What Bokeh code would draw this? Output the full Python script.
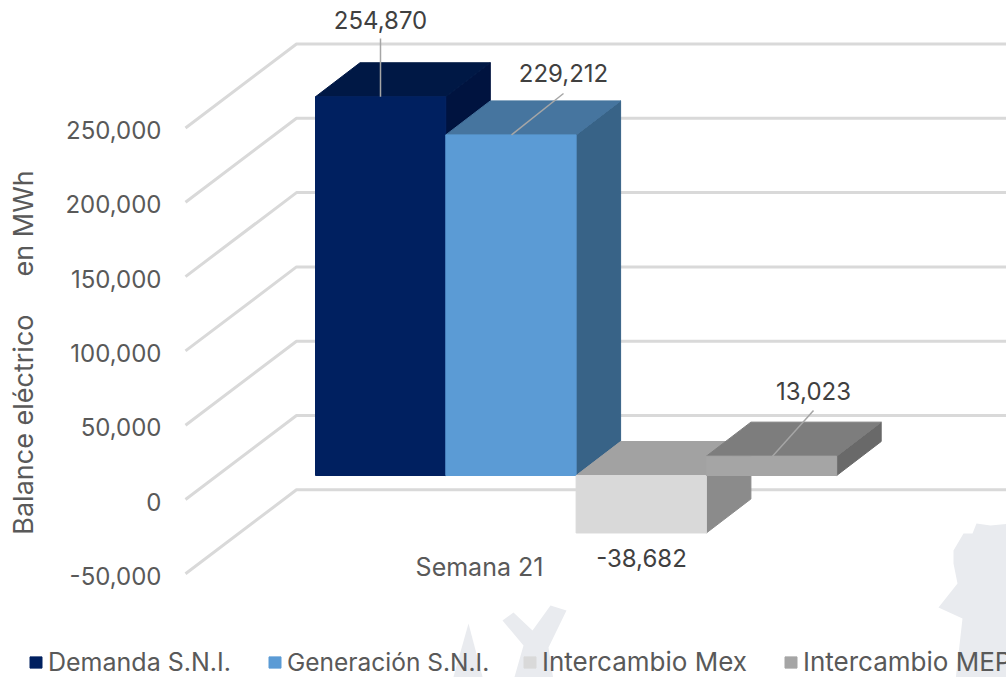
import math
from bokeh.plotting import figure
from bokeh.models import (Range1d, LinearAxis, FixedTicker, NumeralTickFormatter, Legend, LegendItem)
from bokeh.core.properties import value
from bokeh.embed import file_html
from bokeh.resources import INLINE

# ---- data ----
category = "Semana 21"
series = ["Demanda S.N.I.", "Generación S.N.I.", "Intercambio Mex", "Intercambio MEP"]
values = [254870, 229212, -38682, 13023]
ticks = [-50000, 0, 50000, 100000, 150000, 200000, 250000]
front_colors = ["#002060", "#5b9bd5", "#d9d9d9", "#a5a5a5"]
top_colors = ["#001845", "#46759f", "#a2a2a2", "#7d7d7d"]
side_colors = ["#00133f", "#386387", "#8b8b8b", "#696969"]
axis_title = "Balance eléctrico\u00a0\u00a0\u00a0\u00a0\u00a0en MWh"

# ---- layout (window pixels) ----
FONT = "Inter"
W, H = 1006, 677
PX = 74.3 / 50000            # pixels per MWh
Y_BAR0 = 475                 # window y of zero on the bar plane
Y_AXIS0 = 499                # window y of zero on the front wall edge
Y_LABEL0 = 501               # window y of the zero tick label
BAR_X0, BAR_W = 315, 130.3
DEPTH_X, DEPTH_Y = 44.5, 34
WALL_X0, WALL_X1, WALL_R, WALL_DY = 185, 296, 1010, 84
legend_x = [28, 267, 522, 783]
legend_size = ["25px", "24.5px", "26px", "26px"]

def vrange(y0):
    return Range1d((y0 - H) / PX, y0 / PX)
def vy(y):
    return (Y_BAR0 - y) / PX

p = figure(width=W, height=H, output_backend="svg", toolbar_location=None,
           x_range=Range1d(0, W), y_range=vrange(Y_BAR0),
           x_axis_type=None, y_axis_type=None, min_border=0, background_fill_color=None,
           border_fill_color=None, outline_line_color=None)
p.grid.visible = False
p.extra_y_ranges["front"] = vrange(Y_AXIS0)
p.extra_y_ranges["labels"] = vrange(Y_LABEL0)

axis = LinearAxis(y_range_name="labels", ticker=FixedTicker(ticks=ticks), fixed_location=170,
                  formatter=NumeralTickFormatter(format="0,0"),
                  axis_line_color=None, major_tick_line_color=None, minor_tick_line_color=None,
                  major_label_standoff=3, major_label_text_font=FONT, major_label_text_font_size="24px",
                  major_label_text_color="#595959")
p.add_layout(axis, "left")

# watermark silhouettes (background decoration)
wm_x = [[1010, 990, 976, 972, 963, 953, 953, 957, 938, 962, 955, 1010],
        [452, 468, 483], [502, 513, 532, 550, 566, 548, 553, 513, 523]]
wm_y = [[523, 525, 523, 533, 533, 550, 563, 583, 607, 618, 680, 680],
        [680, 623, 680], [620, 612, 630, 605, 610, 647, 680, 680, 645]]
p.patches(wm_x, [[vy(y) for y in ys] for ys in wm_y], fill_color="#e9ebef", line_color=None)

# 3D walls / gridlines
p.multi_line([[WALL_X0, WALL_X1, WALL_R] for _ in ticks],
             [[t, t + WALL_DY / PX, t + WALL_DY / PX] for t in ticks],
             y_range_name="front", line_color="#d9d9d9", line_width=3)

# bars
dv = DEPTH_Y / PX
renderers = []
for i, (name, v) in enumerate(zip(series, values)):
    x0 = BAR_X0 + i * BAR_W
    x1 = x0 + BAR_W
    lo, hi = min(0, v), max(0, v)
    p.patch([x1, x1 + DEPTH_X, x1 + DEPTH_X, x1], [lo, lo + dv, hi + dv, hi],
            fill_color=side_colors[i], line_color=side_colors[i], line_width=1)
    p.patch([x0, x1, x1 + DEPTH_X, x0 + DEPTH_X], [hi, hi, hi + dv, hi + dv],
            fill_color=top_colors[i], line_color=top_colors[i], line_width=1)
    renderers.append(p.quad(left=x0, right=x1, bottom=lo, top=hi, fill_color=front_colors[i],
                            line_color=front_colors[i], line_width=1))

# leader lines, data labels
label_x = [380, 563, 641, 813]
label_y = [19, 72, 557, 390]
lead_from = [(380, 38), (563, 93), None, (813, 410)]
lead_to_x = [380, 511, None, 772]
for i, v in enumerate(values):
    if lead_from[i]:
        p.line([lead_from[i][0], lead_to_x[i]], [vy(lead_from[i][1]), max(0, v)],
               line_color="#a6a6a6", line_width=1.5)
p.text(label_x, [vy(y) for y in label_y], text=[f"{v:,}" for v in values], text_font=value(FONT),
       text_font_size="24px", text_color="#404040", text_align="center", text_baseline="middle")
p.text([479], [vy(566.5)], text=[category], text_font=value(FONT), text_font_size="25px",
       text_color="#595959", text_align="center", text_baseline="middle")
p.text([23], [vy(352)], text=[axis_title], angle=math.pi / 2, text_font=value(FONT), text_font_size="27px",
       text_color="#595959", text_align="center", text_baseline="middle")

for name, r, lx, fs in zip(series, renderers, legend_x, legend_size):
    legend = Legend(items=[LegendItem(label=name, renderers=[r])], location=(lx, 0),
                    background_fill_color=None, border_line_color=None, padding=0, margin=0,
                    glyph_width=15, glyph_height=14, label_standoff=5, label_text_font=FONT,
                    label_text_font_size=fs, label_text_color="#595959", click_policy="none")
    p.add_layout(legend, "center")

open("out.html", "w").write(file_html(p, INLINE))
